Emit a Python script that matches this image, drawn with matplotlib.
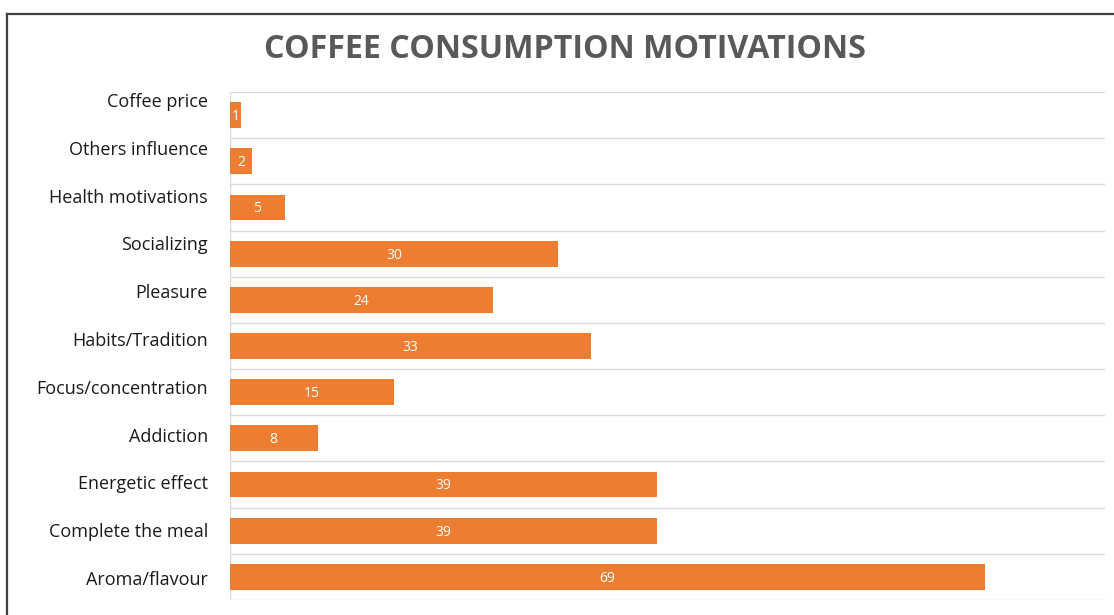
import matplotlib
matplotlib.use("Agg")
import matplotlib.pyplot as plt
from matplotlib.lines import Line2D
import numpy as np

categories = ["Coffee price", "Others influence", "Health motivations", "Socializing",
              "Pleasure", "Habits/Tradition", "Focus/concentration", "Addiction",
              "Energetic effect", "Complete the meal", "Aroma/flavour"]
values = [1, 2, 5, 30, 24, 33, 15, 8, 39, 39, 69]
title = "COFFEE CONSUMPTION MOTIVATIONS"

plt.rcParams['font.family'] = ['Open Sans', 'DejaVu Sans']

fig = plt.figure(figsize=(11.14, 6.15), dpi=100)
ax = fig.add_axes([230/1114, 1-600/615, (1105-230)/1114, (600-92)/615])

y = np.arange(len(categories))
bars = ax.barh(y, values, height=0.56, color="#ED7D31", zorder=3)
for b, v in zip(bars, values):
    ax.text(b.get_width()/2, b.get_y()+b.get_height()/2 + 0.03, str(v), color="white",
            ha="center", va="center", fontsize=10, zorder=4)

ax.set_xlim(0, 80)
ax.set_ylim(len(categories)-0.5, -0.5)
ax.set_xticks([])
# category separators
for k in range(len(categories)+1):
    ax.axhline(k-0.5, color="#D9D9D9", lw=1, zorder=1)
ax.axvline(0, color="#D9D9D9", lw=1, zorder=2)
for s in ax.spines.values():
    s.set_visible(False)

# label positions drift slightly above bar centers as in the reference
n = len(categories)
offsets = [(-15 + 1.6*k)/46.2 for k in range(n)]
ax.set_yticks(y + np.array(offsets))
ax.set_yticklabels(categories, fontsize=13, color="#1a1a1a")
ax.tick_params(axis="y", length=0, pad=16)

fig.text(565/1114, 1-49/615, title, ha="center", va="center", fontsize=23.2,
         fontweight="bold", color="#595959")

fig.add_artist(Line2D([7/1114, 7/1114], [0, 1-14/615], color="#404040", lw=1.6))
fig.add_artist(Line2D([7/1114, 1], [1-14/615, 1-14/615], color="#404040", lw=1.6))

fig.savefig("out.png", dpi=100, facecolor="white")
